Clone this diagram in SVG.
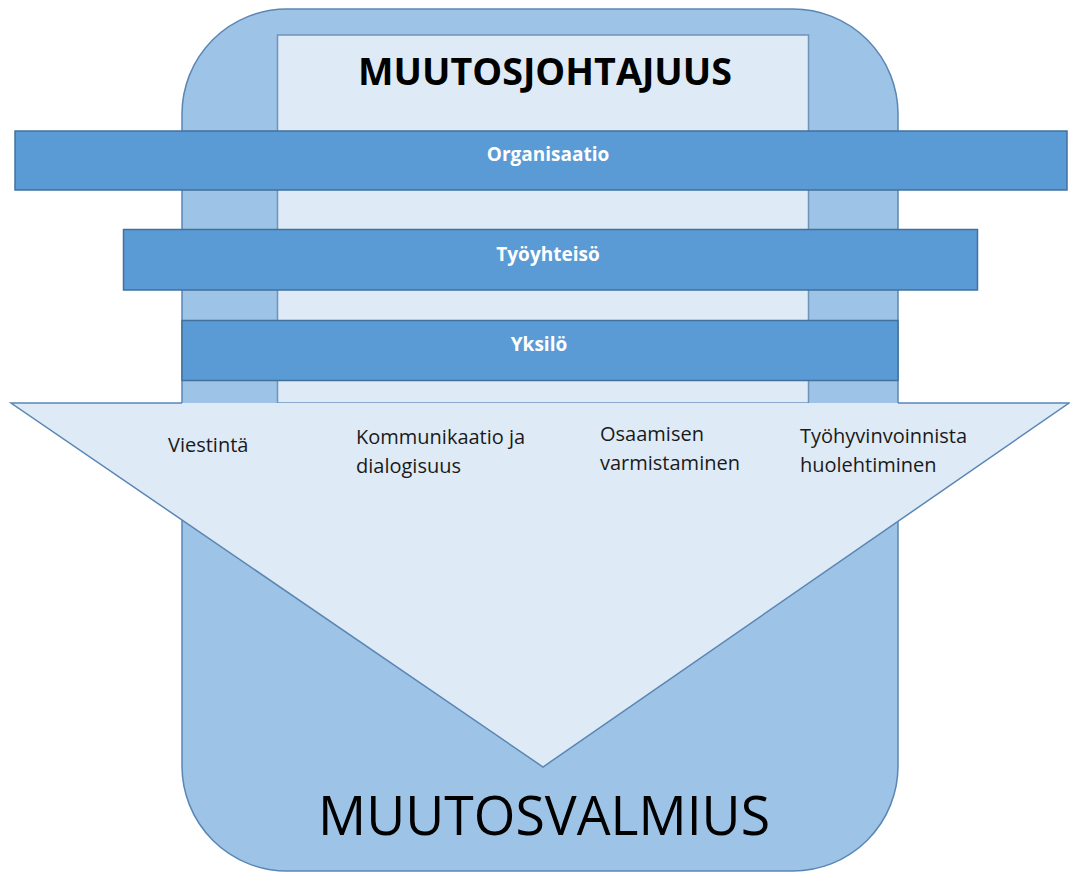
<svg xmlns="http://www.w3.org/2000/svg" width="1070" height="873" viewBox="0 0 1070 873">
<style>
.outer{fill:#9DC3E6;stroke:#5A86B4;stroke-width:1.5}
.inner{fill:#DEEAF6;stroke:#6E94BC;stroke-width:1.5}
.bar{fill:#5B9BD5;stroke:#41719C;stroke-width:1.5}
.barText{font-family:"Open Sans","Liberation Sans",sans-serif;font-weight:bold;font-size:19px;fill:#ffffff;text-anchor:middle}
.lbl{font-family:"Open Sans","Liberation Sans",sans-serif;font-size:20px;fill:#1a1a1a}
.edge{fill:none;stroke:#5A86B4;stroke-width:1.5}
</style>
<rect width="1070" height="873" fill="#ffffff"/>
<g id="muutosvalmius-frame">
<rect class="outer" x="182" y="9" width="716" height="862" rx="105" ry="105"/>
</g>
<g id="muutosjohtajuus">
<rect class="inner" x="277.5" y="35" width="531" height="368"/>
<text x="545" y="85" font-family="'Open Sans','Liberation Sans',sans-serif" font-weight="bold" font-size="38" fill="#000" text-anchor="middle" textLength="374" lengthAdjust="spacingAndGlyphs">MUUTOSJOHTAJUUS</text>
</g>
<g id="organisaatio">
<rect class="bar" x="15" y="131" width="1052" height="59"/>
<text class="barText" x="548" y="161">Organisaatio</text>
</g>
<g id="tyoyhteiso">
<rect class="bar" x="123.5" y="229.5" width="854" height="60.5"/>
<text class="barText" x="548" y="261">Työyhteisö</text>
</g>
<g id="yksilo">
<rect class="bar" x="182" y="320.5" width="716" height="60"/>
<text class="barText" x="539" y="351">Yksilö</text>
</g>
<g id="arrow">
<polygon points="11,403 1069,403 543,767" fill="#DEEAF6"/>
<path class="edge" d="M182,403 L11,403 L543,767 L1069,403 L898,403"/>
<text class="lbl" x="168" y="452">Viestintä</text>
<text class="lbl" x="356" y="444">Kommunikaatio ja</text>
<text class="lbl" x="356" y="473">dialogisuus</text>
<text class="lbl" x="600" y="441">Osaamisen</text>
<text class="lbl" x="600" y="470">varmistaminen</text>
<text class="lbl" x="800" y="443">Työhyvinvoinnista</text>
<text class="lbl" x="800" y="472">huolehtiminen</text>
</g>
<g id="label-muutosvalmius">
<text x="544" y="835" font-family="'Open Sans','Liberation Sans',sans-serif" font-size="54" fill="#000" text-anchor="middle" textLength="452" lengthAdjust="spacingAndGlyphs">MUUTOSVALMIUS</text>
</g>
</svg>
